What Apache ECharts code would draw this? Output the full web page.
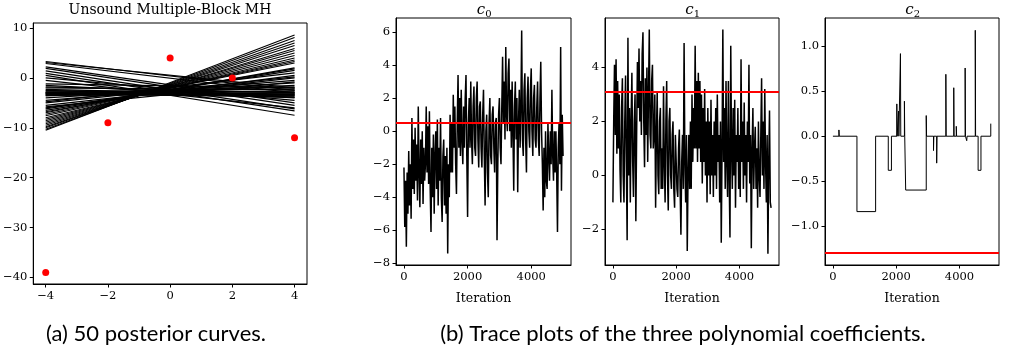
<!DOCTYPE html>
<html>
<head>
<meta charset="utf-8">
<script src="https://cdn.jsdelivr.net/npm/echarts@6/dist/echarts.min.js"></script>
<style>
  html, body { margin: 0; background: #fff; }
  #chart { width: 1013px; height: 354px; }
</style>
</head>
<body>
<div id="chart"></div>
<script>
// observed data points (red dots)
const pointX = [-4, -2, 0, 2, 4];
const pointY = [-39, -9, 4, 0, -12];

// 50 posterior curves, read as the value at x = -4 and at x = 4
const curveX = [-4, 4];
const curveLeft = [
  3.3, 3.1, 2.9, 2.2, 1.9, 1.4, 0.9, 0.5, 0.0, -0.5,
  -1.2, -1.8, -2.0, -2.3, -2.6, -2.8, -3.0, -3.1, -3.3, -3.5,
  -3.2, -3.0, -2.9, -3.4, -3.6, -4.0, -2.5, -1.5,
  -4.5, -5.0, -5.5, -6.0, -6.2, -6.5, -6.8, -7.0, -7.3, -7.6,
  -8.0, -8.3, -8.6, -8.9, -9.2, -9.5, -9.8, -10.0, -10.3, -10.5,
  -5.8, -4.8
];
const curveRight = [
  -2.5, -2.0, -3.0, -5.0, -5.5, -6.2, -6.6, -7.5, -4.5, -6.0,
  -2.0, -3.0, -2.4, -3.5, -2.8, -3.2, -3.0, -3.6, -2.6, -3.3,
  -3.8, -3.4, -2.2, -1.8, -1.5, -1.0, -3.9, -4.0,
  -0.5, 0.2, 0.0, 0.5, 1.5, 1.8, 2.0, 3.0, 3.3, 3.6,
  4.0, 4.5, 5.0, 5.5, 5.9, 6.5, 7.0, 7.5, 8.1, 8.6,
  -0.8, 1.0
];

// trace plots, one value every traceStep iterations
const traceStep = 25;
const c0Trace = [
  -2.2, -5.8, -3.0, -7.0, -2.5, -5.0, -1.2, -4.5, -2.0, -5.3,
  0.8, -3.5, -0.5, -3.8, 0.2, -3.0, -0.8, -4.2, 1.5, -2.5,
  -4.6, -0.5, -3.2, 0.0, -4.4, -1.0, -3.0, -2.0, 1.5, -2.5,
  0.3, -3.2, 1.2, -3.5, -6.1, -1.0, -4.0, -0.2, -5.0, -1.5,
  0.0, -3.5, 0.7, -4.5, -1.0, -3.0, 0.8, -4.0, -5.5, -1.5,
  -0.5, -4.5, -1.5, -5.0, -1.0, -7.4, -2.0, -4.0, 1.0, -2.5,
  0.5, -2.5, 2.2, -1.0, 1.5, -2.0, -3.8, 0.5, 3.4, -1.0,
  2.0, -1.5, 2.5, -0.5, -2.0, 1.5, -1.0, 2.0, 3.4, -1.5,
  -5.2, 0.5, 2.0, -1.0, 3.0, -0.5, -2.0, 1.5, 2.7, -1.0,
  -1.5, 2.0, 3.0, -0.5, -2.2, 1.5, 1.8, -1.0, -2.2, 1.0,
  2.5, -1.5, -4.5, 0.0, 1.0, -2.5, -4.0, 0.5, 2.0, -1.5,
  -2.0, 1.0, 1.5, -1.0, -2.5, 0.5, 0.8, -6.6, -2.0, 1.0,
  2.0, -1.0, -2.0, 1.5, 4.5, 0.5, 3.0, -0.5, 5.1, 1.0,
  0.0, 3.5, 4.4, 0.0, 2.5, -1.0, 3.0, 0.0, -3.6, 1.5,
  3.0, -0.5, 2.0, -3.7, 0.5, 2.5, -1.0, 1.5, 6.1, -0.5,
  -1.5, 2.5, 3.5, -0.5, -2.5, 2.0, 3.3, 0.0, -1.0, 2.5,
  3.8, 0.0, -1.5, 2.0, 2.8, -0.5, -1.0, 1.5, 3.0, -0.5,
  -1.5, 2.0, 4.2, 0.0, -2.0, -4.8, -1.0, -4.0, 0.0, -3.0,
  -3.5, 0.5, -1.5, -3.0, 0.0, -2.0, 2.5, -1.5, -3.0, 0.0,
  -2.5, 0.0, -2.5, -6.1, -1.0, 0.5, -2.0, 5.1, -3.6, 1.0,
  -1.5
];
const c1Trace = [
  -1.0, 2.0, 4.1, 1.5, 4.3, 0.8, 3.5, 1.0, 3.0, 0.2,
  -1.0, 2.5, 3.6, 0.0, -1.0, 2.0, 3.7, 0.5, -2.4, 5.1,
  0.0, 2.5, -1.0, 2.0, 3.8, 0.5, -0.8, 2.0, 3.0, -1.7,
  1.5, 4.2, 2.5, 4.7, 2.0, 3.5, 1.5, 4.5, 5.3, 2.0,
  0.3, 3.6, 1.5, 4.0, 0.5, 3.0, 5.4, 1.5, 1.0, 3.5,
  4.1, 1.0, 1.5, 3.0, -1.2, 1.5, 3.1, 0.0, -0.7, 2.0,
  2.5, -0.5, 1.0, -0.5, 3.3, 0.5, -1.0, 2.0, 3.5, 0.0,
  -1.3, 2.0, 2.5, 0.0, -0.5, 1.5, 2.0, -0.5, -1.2, 1.5,
  1.5, -0.5, -0.8, 1.0, 1.7, -0.5, -2.2, 0.5, 1.5, -0.5,
  4.9, 0.5, -1.0, 1.5, -2.8, 0.0, 1.5, -0.5, 2.0, -0.5,
  3.0, 0.5, 2.5, 1.0, 4.8, 1.0, 3.5, 0.5, 3.8, 1.0,
  3.5, 0.5, 3.0, -0.3, 2.5, 0.5, 3.2, 0.0, 2.0, -1.0,
  2.5, 0.0, 2.0, -0.7, 2.8, 0.0, 1.5, -0.8, 2.0, 0.0,
  2.5, -0.5, 3.0, 0.5, 1.5, -1.0, 2.0, -2.5, 1.0, 5.4,
  0.5, 2.5, -0.5, 3.5, 0.5, -0.8, 3.5, 0.0, -2.3, 4.8,
  1.0, -0.5, 2.5, 0.0, 2.8, -1.2, 1.5, 0.5, 2.5, -0.5,
  1.5, -0.8, 4.3, 0.5, 2.0, -0.5, 2.7, 0.0, 1.5, -1.0,
  2.0, 0.5, 4.1, -0.3, 1.5, -2.7, 1.0, 2.5, -0.5, 1.0,
  1.8, -0.5, 1.0, -1.2, 2.0, 0.0, -0.8, 1.5, 3.6, 0.0,
  2.0, -0.5, 3.2, 0.5, -1.0, 1.5, -2.9, 0.5, 2.4, -1.0,
  -1.2
];
// c2 is piecewise constant: [iteration, value] at each change
const c2Steps = [
  [0, 0], [190, 0.07], [200, 0], [760, -0.84], [1350, 0], [1750, -0.38], [1850, 0],
  [2020, 0.36], [2030, 0], [2075, 0.28], [2085, 0], [2135, 0.92], [2145, 0],
  [2260, 0.39], [2270, 0], [2300, -0.6], [2950, 0.23], [2960, 0],
  [3180, -0.16], [3190, 0], [3280, -0.3], [3290, 0], [3570, 0.69], [3580, 0],
  [3820, 0.54], [3830, 0], [3900, 0.11], [3910, 0], [4180, 0.76], [4190, 0],
  [4230, -0.05], [4240, 0], [4500, 1.18], [4510, 0], [4590, -0.38], [4680, 0],
  [4990, 0.14], [5000, 0.14]
];
const trueCoef = [0.5, 3.1, -1.3];
const traceSubscripts = ['0', '1', '2'];

const curveTicksX = [-4, -2, 0, 2, 4];
const curveTicksY = [-40, -30, -20, -10, 0, 10];
const traceTicksX = [0, 2000, 4000];
const traceTicksY = [
  [-8, -6, -4, -2, 0, 2, 4, 6],
  [-2, 0, 2, 4],
  [-1.0, -0.5, 0.0, 0.5, 1.0]
];

const serif = 'DejaVu Serif';
const minus = (s) => String(s).replace('-', '\u2212');

const grids = [
  { left: 33, top: 23, width: 274, height: 261 },
  { left: 396, top: 18, width: 175, height: 247 },
  { left: 605, top: 18, width: 174, height: 247 },
  { left: 825, top: 18, width: 174, height: 247 }
].map((g) => ({ ...g, show: true, borderColor: '#000', borderWidth: 1, containLabel: false }));

function axis(gridIndex, min, max, ticks, fmt, extra) {
  return {
    type: 'value',
    gridIndex,
    min,
    max,
    axisLine: { show: true, onZero: false, lineStyle: { color: '#000', width: 1 } },
    axisTick: { show: true, length: 3.5, lineStyle: { color: '#000' }, customValues: ticks },
    axisLabel: {
      color: '#000', fontFamily: serif, fontSize: 11.5, margin: 6,
      customValues: ticks, formatter: fmt, showMinLabel: true, showMaxLabel: true
    },
    splitLine: { show: false },
    ...extra
  };
}

const yRanges = [[-8.1, 6.85], [-3.32, 5.83], [-1.435, 1.317]];
const yFmt = [(v) => minus(v), (v) => minus(v), (v) => minus(v.toFixed(1))];

const xAxis = [axis(0, -4.4, 4.4, curveTicksX, (v) => minus(v))];
const yAxis = [axis(0, -41.3, 11.0, curveTicksY, (v) => minus(v))];
for (let k = 0; k < 3; k++) {
  xAxis.push(axis(k + 1, -250, 5250, traceTicksX, (v) => String(v), {
    name: 'Iteration', nameLocation: 'middle', nameGap: 27,
    nameTextStyle: { color: '#000', fontFamily: serif, fontSize: 12.5 }
  }));
  yAxis.push(axis(k + 1, yRanges[k][0], yRanges[k][1], traceTicksY[k], yFmt[k]));
}

const series = [];
for (let i = 0; i < curveLeft.length; i++) {
  series.push({
    type: 'line', xAxisIndex: 0, yAxisIndex: 0, showSymbol: false, silent: true,
    data: [[curveX[0], curveLeft[i]], [curveX[1], curveRight[i]]],
    lineStyle: { color: '#000', width: 1.1 }
  });
}
series.push({
  type: 'scatter', xAxisIndex: 0, yAxisIndex: 0, symbolSize: 7, z: 5,
  data: pointX.map((x, i) => [x, pointY[i]]),
  itemStyle: { color: '#ff0000', opacity: 1 }
});

const traces = [
  c0Trace.map((v, i) => [i * traceStep, v]),
  c1Trace.map((v, i) => [i * traceStep, v]),
  c2Steps
];
traces.forEach((data, k) => {
  series.push({
    type: 'line', xAxisIndex: k + 1, yAxisIndex: k + 1, showSymbol: false, silent: true,
    step: k === 2 ? 'end' : false,
    sampling: null,
    data,
    lineStyle: { color: '#000', width: k === 2 ? 1 : 1.5 },
    markLine: {
      symbol: 'none', silent: true, label: { show: false },
      lineStyle: { color: '#ff0000', width: 2, type: 'solid' },
      data: [{ yAxis: trueCoef[k] }]
    }
  });
});

const titleCenters = [483.5, 692, 912];
const graphic = [
  { type: 'text', x: 170, y: 10, style: { text: 'Unsound Multiple-Block MH', fill: '#000',
    font: '14px "DejaVu Serif"', align: 'center', verticalAlign: 'middle' } },
  { type: 'text', x: 156, y: 334, style: { text: '(a) 50 posterior curves.', fill: '#000',
    font: '22px Lato', align: 'center', verticalAlign: 'middle' } },
  { type: 'text', x: 683, y: 334, style: { text: '(b) Trace plots of the three polynomial coefficients.', fill: '#000',
    font: '22px Lato', align: 'center', verticalAlign: 'middle' } }
];
traceSubscripts.forEach((s, k) => {
  graphic.push({ type: 'text', x: titleCenters[k] - 2.5, y: 10, style: { text: 'c', fill: '#000',
    font: 'italic 15px "DejaVu Serif"', align: 'center', verticalAlign: 'middle' } });
  graphic.push({ type: 'text', x: titleCenters[k] + 5, y: 14, style: { text: s, fill: '#000',
    font: '10px "DejaVu Serif"', align: 'center', verticalAlign: 'middle' } });
});

const chart = echarts.init(document.getElementById('chart'));
chart.setOption({
  animation: false,
  backgroundColor: '#fff',
  grid: grids,
  xAxis,
  yAxis,
  series,
  graphic
});
</script>
</body>
</html>
